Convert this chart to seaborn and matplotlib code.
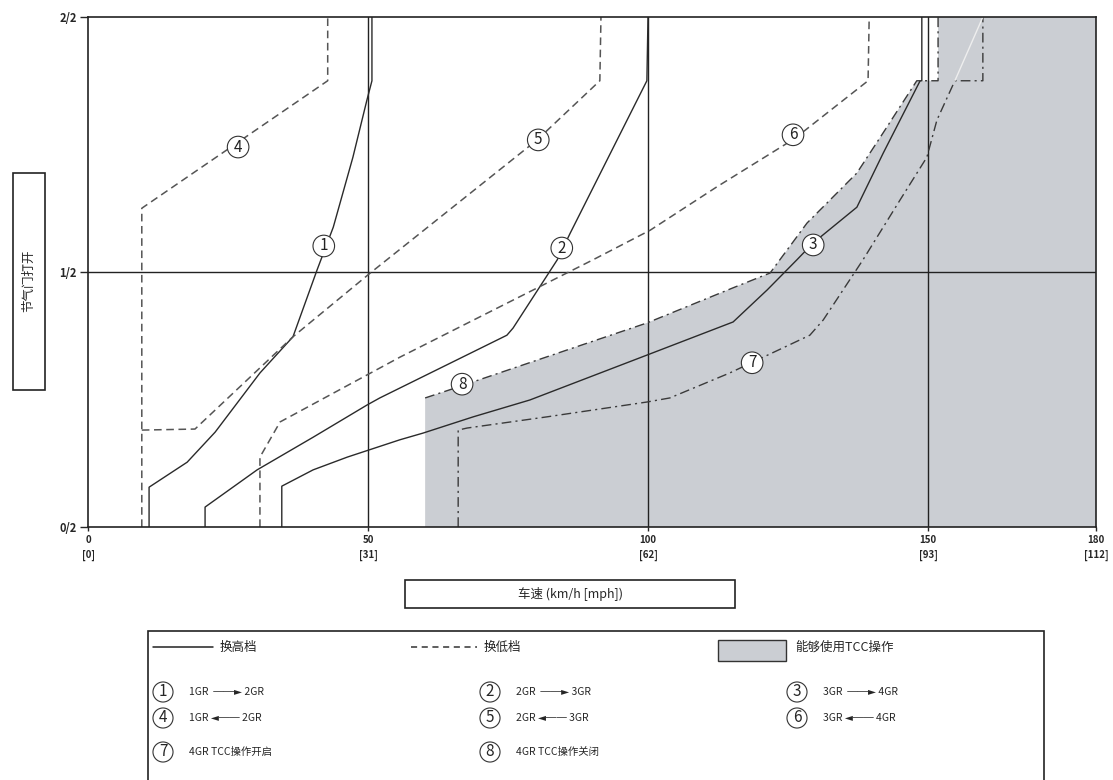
import numpy as np
import pandas as pd
import matplotlib
matplotlib.use("Agg")
import matplotlib.pyplot as plt
from matplotlib.patches import Rectangle
import seaborn as sns

# ==========================================
# 1. DATA (speed in km/h, throttle opening in %)
# ==========================================
# upshift lines (solid)
c1_speed = [10.9, 10.9, 17.7, 22.7, 30.7, 36.6, 40.9, 43.8, 47.3, 49.8, 50.7, 50.7]
c1_throt = [0, 7.8, 12.7, 18.6, 30.2, 37.3, 50.4, 58.8, 72.5, 83.7, 87.5, 100]
c2_speed = [20.9, 20.9, 30.2, 40.2, 49.8, 52.1, 74.8, 75.9, 83.8, 86.1, 99.8, 100]
c2_throt = [0, 3.9, 11.2, 17.6, 23.9, 25.3, 37.6, 39.0, 52.4, 57.6, 87.5, 100]
c3_speed = [34.6, 34.6, 40.2, 46.3, 55.7, 59.8, 68.8, 78.9, 99.8, 115.2, 121.3,
            126.6, 129.5, 137.3, 142.0, 148.6, 148.9, 148.9]
c3_throt = [0, 8.0, 11.2, 13.7, 17.1, 18.4, 21.6, 24.9, 33.7, 40.2, 46.5,
            52.4, 55.7, 62.7, 73.3, 87.5, 87.5, 100]
# downshift lines (dashed)
c4_speed = [9.6, 9.6, 42.8, 42.8]
c4_throt = [0, 62.5, 87.5, 100]
c5_speed = [9.6, 19.1, 36.6, 50.4, 80.2, 91.4, 91.6]
c5_throt = [19.0, 19.2, 37.3, 49.8, 75.9, 87.5, 100]
c6_speed = [30.7, 30.7, 34.3, 55.7, 90.2, 100.4, 112.3, 126.1, 139.3, 139.5]
c6_throt = [0, 13.7, 20.6, 33.3, 52.4, 58.2, 66.7, 76.1, 87.5, 100]
# TCC lines (dash-dot)
c7_speed = [66.1, 66.1, 67.7, 82.0, 99.8, 103.9, 114.6, 128.9, 131.3, 138.4,
            145.0, 149.8, 151.6, 154.8, 159.8, 159.8]
c7_throt = [0, 19.0, 19.4, 21.6, 24.5, 25.3, 30.2, 37.6, 40.6, 52.4,
            64.1, 72.5, 79.8, 87.5, 87.5, 100]
c8_speed = [60.2, 64.6, 86.6, 99.8, 115.2, 121.8, 128.4, 137.3, 142.0, 148.0, 151.8, 151.8]
c8_throt = [25.3, 26.9, 35.1, 40.0, 46.9, 49.8, 59.6, 69.4, 77.3, 87.5, 87.5, 100]

label_nums = ['1', '2', '3', '4', '5', '6', '7', '8']
label_x = [42.1, 84.6, 129.5, 26.8, 80.4, 125.9, 118.6, 66.8]
label_y = [55.1, 54.7, 55.3, 74.5, 75.9, 76.9, 32.2, 28.0]

x_ticks = [0, 50, 100, 150, 180]
x_ticklabels = ['0\n[0]', '50\n[31]', '100\n[62]', '150\n[93]', '180\n[112]']
y_ticks = [0, 50, 100]
y_ticklabels = ['0/2', '1/2', '2/2']

# ==========================================
# 2. PLOT
# ==========================================
sns.set_style("white")
plt.rcParams['font.family'] = ['Noto Sans CJK SC', 'DejaVu Sans']

fig = plt.figure(figsize=(11.13, 7.80), dpi=100)
ax = fig.add_axes([0.0791, 0.3244, 0.9056, 0.6538])

shade = '#cbced3'
# TCC zone: right of/below line 8
poly_x = c8_speed + [180, 180, c8_speed[0]]
poly_y = c8_throt + [100, 0, 0]
ax.fill(poly_x, poly_y, color=shade, lw=0, zorder=0)

# grid lines
for v in [50, 100, 150]:
    ax.axvline(v, color='#222222', lw=1.0, zorder=1)
ax.axhline(50, color='#222222', lw=1.0, zorder=1)

solid = dict(color='#2a2a2a', lw=1.0)
dash = dict(color='#555555', lw=1.1, linestyle=(0, (5, 3)))
dashdot = dict(color='#3a3a3a', lw=1.0, linestyle=(0, (7, 3, 1.5, 3)))

curves = [
    (c1_speed, c1_throt, solid), (c2_speed, c2_throt, solid), (c3_speed, c3_throt, solid),
    (c4_speed, c4_throt, dash), (c5_speed, c5_throt, dash), (c6_speed, c6_throt, dash),
    (c7_speed, c7_throt, dashdot), (c8_speed, c8_throt, dashdot),
]
for xs, ys, st in curves:
    df = pd.DataFrame({'speed': xs, 'throttle': ys})
    sns.lineplot(data=df, x='speed', y='throttle', sort=False, estimator=None,
                 ax=ax, zorder=2, **st)

# faint continuation line inside shaded zone
ax.plot([c7_speed[13], c7_speed[14]], [c7_throt[13], c7_throt[15]], color='#eeeeee', lw=1.0, zorder=2)

# circled curve labels
for n, lx, ly in zip(label_nums, label_x, label_y):
    ax.text(lx, ly, n, ha='center', va='center', fontsize=11, color='#222222', zorder=4,
            bbox=dict(boxstyle='circle,pad=0.15', fc='white', ec='#333333', lw=0.8))

ax.set_xlim(0, 180)
ax.set_ylim(0, 100)
ax.set_xticks(x_ticks)
ax.set_xticklabels(x_ticklabels, fontsize=7, fontweight='bold', linespacing=1.6)
ax.set_yticks(y_ticks)
ax.set_yticklabels(y_ticklabels, fontsize=8, fontweight='bold')
ax.tick_params(axis='y', length=6, width=1, direction='out', left=True, pad=2)
ax.tick_params(axis='x', length=3, width=1, direction='out', bottom=True, pad=3)
ax.set_xlabel('')
ax.set_ylabel('')
for s in ax.spines.values():
    s.set_color('#222222')
    s.set_linewidth(1.2)

W, H = 1113, 780


def fig_box(x0, y0, x1, y1, **kw):
    r = Rectangle((x0 / W, 1 - y1 / H), (x1 - x0) / W, (y1 - y0) / H,
                  transform=fig.transFigure, fill=False, ec='#222222', lw=1.2, **kw)
    fig.add_artist(r)


# y label box
fig_box(13, 173, 45, 390)
fig.text(29 / W, 1 - 281 / H, '节气门打开', rotation=90, ha='center', va='center', fontsize=9)

# x label box
fig_box(405, 580, 735, 608)
fig.text(570 / W, 1 - 594 / H, '车速 (km/h [mph])', ha='center', va='center', fontsize=9)

# legend box
fig_box(148, 631, 1044, 800, clip_on=False)


def fx(px):
    return px / W


def fy(py):
    return 1 - py / H


# row 1
fig.add_artist(plt.Line2D([fx(153), fx(213)], [fy(647), fy(647)], transform=fig.transFigure,
                          color='#222222', lw=1.1))
fig.text(fx(220), fy(647), '换高档', va='center', fontsize=9)
fig.add_artist(plt.Line2D([fx(411), fx(477)], [fy(647), fy(647)], transform=fig.transFigure,
                          color='#333333', lw=1.1, linestyle=(0, (4, 3))))
fig.text(fx(484), fy(647), '换低档', va='center', fontsize=9)
fig.add_artist(Rectangle((fx(718), fy(661)), (786 - 718) / W, 21 / H, transform=fig.transFigure,
                         fc=shade, ec='#333333', lw=1.0))
fig.text(fx(795), fy(647), '能够使用TCC操作', va='center', fontsize=9)

leg_items = [
    ('1', '1GR  ──► 2GR', 163, 692), ('2', '2GR  ──► 3GR', 490, 692), ('3', '3GR  ──► 4GR', 797, 692),
    ('4', '1GR ◄── 2GR', 163, 718), ('5', '2GR ◄── 3GR', 490, 718), ('6', '3GR ◄── 4GR', 797, 718),
    ('7', '4GR TCC操作开启', 163, 752), ('8', '4GR TCC操作关闭', 490, 752),
]
for n, txt, px, py in leg_items:
    fig.text(fx(px), fy(py), n, ha='center', va='center', fontsize=11,
             bbox=dict(boxstyle='circle,pad=0.1', fc='white', ec='#333333', lw=0.8))
    fig.text(fx(px + 26), fy(py), txt, ha='left', va='center', fontsize=7.5)

fig.savefig('out.png', dpi=100)
plt.close()
